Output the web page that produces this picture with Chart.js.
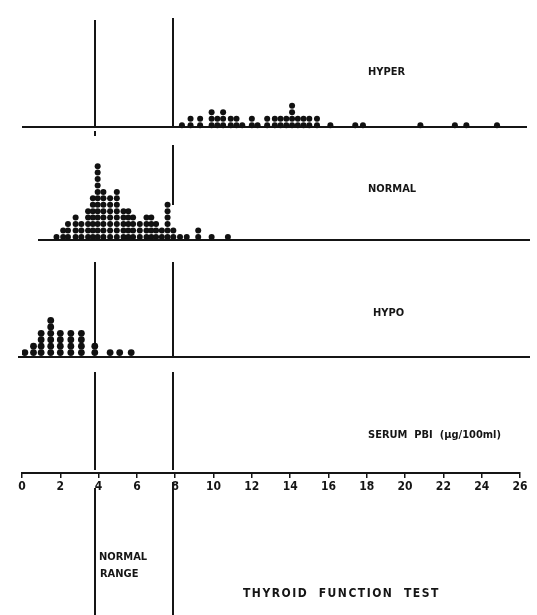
<!DOCTYPE html>
<html>
<head>
<meta charset="utf-8">
<script src="https://cdn.jsdelivr.net/npm/chart.js@4.4.1/dist/chart.umd.min.js"></script>
<style>
  html, body { margin: 0; padding: 0; background: #fff; }
  #wrap { width: 537px; height: 615px; }
</style>
</head>
<body>
<div id="wrap"><canvas id="chart" width="537" height="615"></canvas></div>
<script>
  // Serum PBI (ug/100ml), one entry per column of dots, and how many dots sit in it
  const hyperValues = [8.35, 8.8, 9.3, 9.9, 10.2, 10.5, 10.9, 11.2, 11.5, 12.0, 12.3, 12.8, 13.2, 13.5, 13.8, 14.1, 14.4, 14.7, 15.0, 15.4, 16.1, 17.4, 17.8, 20.8, 22.6, 23.2, 24.8];
  const hyperCounts = [1, 2, 2, 3, 2, 3, 2, 2, 1, 2, 1, 2, 2, 2, 2, 4, 2, 2, 2, 2, 1, 1, 1, 1, 1, 1, 1];

  const normalValues = [1.8, 2.15, 2.4, 2.8, 3.1, 3.45, 3.7, 3.95, 4.25, 4.6, 4.95, 5.3, 5.55, 5.8, 6.15, 6.5, 6.75, 7.0, 7.3, 7.6, 7.9, 8.25, 8.6, 9.2, 9.9, 10.75];
  const normalCounts = [1, 2, 3, 4, 3, 5, 7, 12, 8, 7, 8, 5, 5, 4, 3, 4, 4, 3, 2, 6, 2, 1, 1, 2, 1, 1];

  const hypoValues = [0.15, 0.6, 1.0, 1.5, 2.0, 2.55, 3.1, 3.8, 4.6, 5.1, 5.7];
  const hypoCounts = [1, 2, 4, 6, 4, 4, 4, 2, 1, 1, 1];

  const normalRange = [3.8, 7.9];
  const xTickValues = [0, 2, 4, 6, 8, 10, 12, 14, 16, 18, 20, 22, 24, 26];

  // layout (pixels, y measured from the top)
  const AXIS_Y = 475;
  const PITCH = 6.5;
  const LABEL_FONT = '"DejaVu Sans Condensed", "DejaVu Sans", sans-serif';
  const panels = [
    { label: "HYPER", base: 127, from: 22, to: 527, tx: 368, ty: 75, values: hyperValues, counts: hyperCounts },
    { label: "NORMAL", base: 240, from: 38, to: 530, tx: 368, ty: 192, values: normalValues, counts: normalCounts },
    { label: "HYPO", base: 357, from: 18, to: 530, tx: 373, ty: 316, values: hypoValues, counts: hypoCounts }
  ];

  // stack the dots of each column
  function stackDots(values, counts, base) {
    var pts = [];
    values.forEach(function (v, i) {
      for (var k = 0; k < counts[i]; k++) {
        pts.push({ x: v, y: base - PITCH * (k + 0.6) });
      }
    });
    return pts;
  }

  var decor = {
    id: "decor",
    beforeDatasetsDraw: function (chart) {
      var ctx = chart.ctx;
      var x = chart.scales.x;
      ctx.save();
      ctx.strokeStyle = "#151515";
      ctx.lineWidth = 2;
      // baselines
      panels.forEach(function (p) {
        ctx.beginPath();
        ctx.moveTo(p.from, p.base);
        ctx.lineTo(p.to, p.base);
        ctx.stroke();
      });
      // normal range lines, broken at each baseline
      var segs = [
        [[20, 128], [131, 136], [262, 346], [372, 470], [488, 615]],
        [[18, 127], [145, 205], [262, 357], [372, 470], [482, 615]]
      ];
      normalRange.forEach(function (v, i) {
        var px = Math.round(x.getPixelForValue(v));
        segs[i].forEach(function (s) {
          ctx.beginPath();
          ctx.moveTo(px, s[0]);
          ctx.lineTo(px, s[1]);
          ctx.stroke();
        });
      });
      ctx.restore();
    },
    afterDraw: function (chart) {
      var ctx = chart.ctx;
      ctx.save();
      ctx.fillStyle = "#151515";
      ctx.font = "bold 11px " + LABEL_FONT;
      ctx.textBaseline = "alphabetic";
      panels.forEach(function (p) {
        ctx.fillText(p.label, p.tx, p.ty);
      });
      ctx.fillText("SERUM  PBI  (\u00b5g/100ml)", 368, 438);
      ctx.fillText("NORMAL", 99, 560);
      ctx.fillText("RANGE", 100, 577);
      ctx.font = "bold 12px " + LABEL_FONT;
      ctx.letterSpacing = "1.5px";
      ctx.fillText("THYROID  FUNCTION  TEST", 243, 597);
      ctx.restore();
    }
  };

  var ctx1 = document.getElementById("chart").getContext("2d");
  var myChart = new Chart(ctx1, {
    type: "scatter",
    data: {
      datasets: panels.map(function (p) {
        return {
          label: p.label,
          data: stackDots(p.values, p.counts, p.base),
          backgroundColor: "#111",
          borderColor: "#111",
          pointRadius: p.label === "HYPO" ? 3.4 : 3,
          pointHoverRadius: 3,
          borderWidth: 0
        };
      })
    },
    options: {
      responsive: false,
      animation: false,
      layout: { padding: { left: 22, right: 17, top: 0, bottom: 0 } },
      plugins: { legend: { display: false }, tooltip: { enabled: false } },
      scales: {
        x: {
          type: "linear",
          min: 0,
          max: 26,
          position: { y: AXIS_Y },
          afterBuildTicks: function (scale) {
            scale.ticks = xTickValues.map(function (v) { return { value: v }; });
          },
          grid: { drawOnChartArea: false, drawTicks: true, tickLength: 4, color: "#151515", lineWidth: 1.5 },
          border: { display: true, color: "#151515", width: 2 },
          ticks: {
            color: "#151515",
            padding: 3,
            maxRotation: 0,
            autoSkip: false,
            font: { family: LABEL_FONT, size: 12, weight: "bold" }
          }
        },
        y: {
          display: false,
          reverse: true,
          min: 0,
          max: 615
        }
      }
    },
    plugins: [decor]
  });
</script>
</body>
</html>
